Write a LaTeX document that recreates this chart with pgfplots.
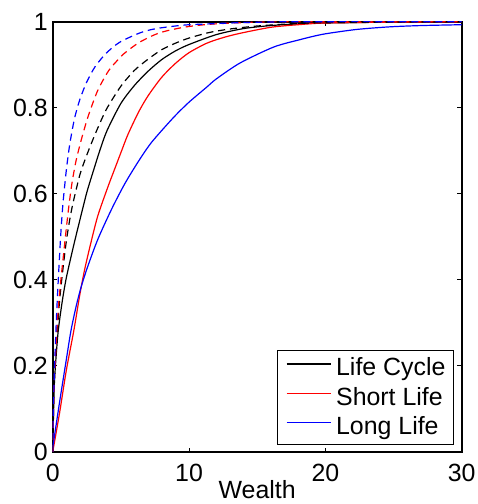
\documentclass[border=0pt]{standalone}
\usepackage{fontspec}
\setmainfont{Liberation Sans}
\usepackage{pgfplots}
\pgfplotsset{compat=1.18}
\begin{document}
\begin{tikzpicture}
\path[use as bounding box] (-26.35bp,-26bp) rectangle (212.65bp,226bp);
\begin{axis}[
  scale only axis, width=204.5bp, height=215.15bp,
  xmin=0, xmax=30, ymin=0, ymax=1,
  xtick={0,10,20,30}, ytick={0,0.2,0.4,0.6,0.8,1},
  tick align=inside, tick pos=both,
  major tick length=2.2bp,
  every tick/.style={black, line width=0.5bp},
  axis line style={line width=0.9bp},
  /pgf/number format/assume math mode=true,
  ticklabel style={font=\fontsize{12.5}{14}\selectfont},
  xticklabel style={yshift=-2.3bp},
  yticklabel style={xshift=1bp},
  xlabel={Wealth},
  xlabel style={font=\fontsize{12.5}{14}\selectfont, at={(axis description cs:0.5,0)}, anchor=north, inner sep=0pt, yshift=-14bp},
  legend cell align=left,
  legend style={at={(1,0)}, anchor=south east, xshift=-3.85bp, yshift=3.5bp,
    draw=black, line width=0.5bp, inner xsep=4bp, inner ysep=3.4bp,
    row sep=4.2bp, column sep=2.5bp,
    font=\fontsize{12.5}{14}\selectfont,
    nodes={inner sep=0pt},
    column 2/.style={nodes={text height=9bp, text depth=2.6bp}}},
  legend image code/.code={\draw[#1, line width=0.6bp] (0bp,2.2bp) -- (22bp,2.2bp);},
  every axis plot/.append style={line width=0.6bp, smooth, tension=0.45},
]
% solid curves
\addplot[black] coordinates {(0,0) (0.1,0.14) (0.2,0.2) (0.4,0.28) (0.7,0.35) (1.0,0.405) (1.5,0.475) (2,0.54) (2.5,0.603) (3,0.655) (3.5,0.705) (4,0.748) (5,0.81) (6,0.852) (7,0.885) (8,0.912) (9,0.932) (10,0.947) (12,0.97) (14,0.984) (16,0.991) (18,0.995) (20,0.997) (25,0.999) (30,1)};
\addlegendentry{Life Cycle}
\addplot[red] coordinates {(0,0) (0.5,0.09) (1,0.19) (1.56,0.284) (1.98,0.364) (2.35,0.425) (2.83,0.49) (3.32,0.55) (4.06,0.617) (4.55,0.658) (5.03,0.698) (5.52,0.738) (6.3,0.79) (7,0.828) (8,0.871) (9,0.903) (10,0.928) (11.3,0.95) (12.5,0.963) (13.74,0.973) (16,0.987) (18,0.993) (20,0.997) (25,0.999) (30,1)};
\addlegendentry{Short Life}
\addplot[blue] coordinates {(0,0.01) (0.5,0.115) (1,0.215) (1.34,0.282) (1.73,0.34) (2.1,0.385) (2.59,0.433) (3.32,0.495) (4.3,0.563) (5.28,0.623) (6.3,0.676) (7.26,0.72) (8.85,0.777) (10,0.813) (11.3,0.848) (12,0.867) (13.74,0.904) (16.2,0.941) (18.1,0.958) (19.85,0.971) (22.3,0.982) (24.7,0.988) (27,0.991) (30,0.993)};
\addlegendentry{Long Life}
% dashed curves
\addplot[black, dash pattern=on 3.6bp off 2.4bp, forget plot] coordinates {(0,0) (0.1,0.15) (0.25,0.24) (0.5,0.35) (0.75,0.425) (1,0.49) (1.25,0.54) (1.5,0.58) (2,0.645) (2.5,0.69) (3,0.73) (3.5,0.767) (4,0.8) (5,0.85) (6,0.887) (7,0.913) (8,0.935) (9,0.95) (10,0.962) (11.5,0.975) (13,0.983) (15,0.99) (18,0.996) (21,0.998) (30,1)};
\addplot[red, dash pattern=on 3.6bp off 2.4bp, forget plot] coordinates {(0,0) (0.1,0.15) (0.2,0.22) (0.4,0.33) (0.6,0.4) (0.8,0.46) (1,0.52) (1.2,0.575) (1.4,0.622) (1.7,0.675) (2.1,0.726) (2.6,0.78) (3.3,0.84) (4.1,0.886) (4.8,0.912) (5.2,0.925) (6.3,0.951) (7.5,0.97) (8.4,0.979) (9.8,0.988) (11.5,0.994) (14,0.998) (18,1) (30,1)};
\addplot[blue, dash pattern=on 3.6bp off 2.4bp, forget plot] coordinates {(0,0) (0.05,0.1) (0.15,0.21) (0.3,0.33) (0.45,0.425) (0.6,0.51) (0.76,0.58) (1,0.655) (1.25,0.715) (1.6,0.775) (2,0.82) (2.5,0.86) (3.1,0.895) (3.9,0.926) (4.9,0.952) (6.4,0.974) (7.6,0.984) (9.6,0.992) (11.5,0.995) (14,0.998) (18,1) (30,1)};
\end{axis}
\end{tikzpicture}
\end{document}
